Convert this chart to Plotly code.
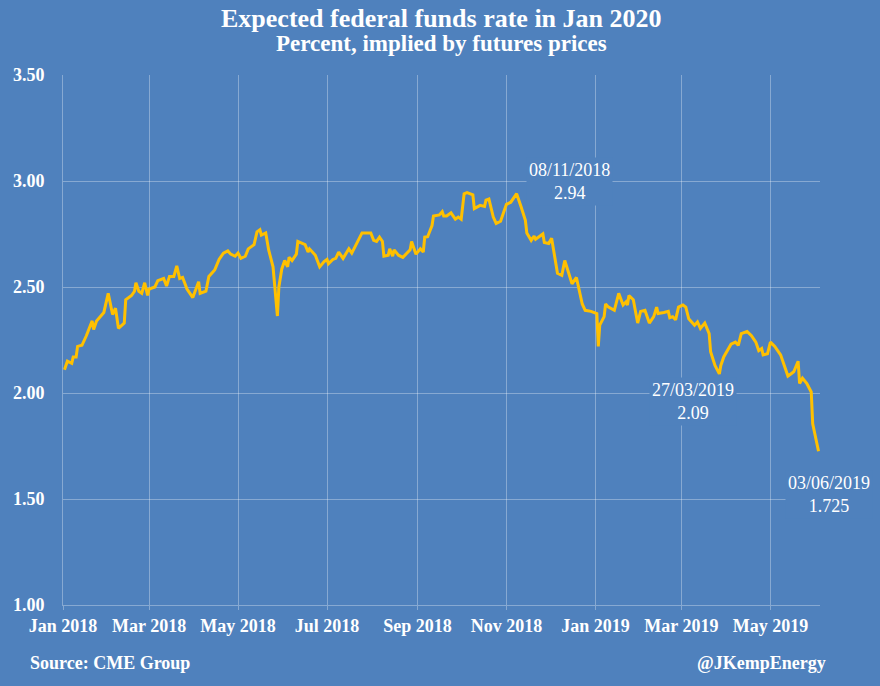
import plotly.graph_objects as go

dates = [
    "2018-01-02", "2018-01-04", "2018-01-07", "2018-01-08", "2018-01-10", "2018-01-11",
    "2018-01-14", "2018-01-17", "2018-01-21", "2018-01-22", "2018-01-24", "2018-01-29",
    "2018-02-01", "2018-02-04", "2018-02-06", "2018-02-08", "2018-02-12", "2018-02-13",
    "2018-02-17", "2018-02-19", "2018-02-20", "2018-02-22", "2018-02-24", "2018-02-26",
    "2018-02-28", "2018-03-01", "2018-03-05", "2018-03-07", "2018-03-11", "2018-03-13",
    "2018-03-15", "2018-03-18", "2018-03-20", "2018-03-22", "2018-03-24", "2018-03-27",
    "2018-03-31", "2018-04-02", "2018-04-04", "2018-04-05", "2018-04-09", "2018-04-11",
    "2018-04-15", "2018-04-18", "2018-04-21", "2018-04-24", "2018-04-26", "2018-04-29",
    "2018-05-01", "2018-05-03", "2018-05-06", "2018-05-08", "2018-05-12", "2018-05-14",
    "2018-05-16", "2018-05-17", "2018-05-20", "2018-05-22", "2018-05-25", "2018-05-28",
    "2018-05-29", "2018-05-31", "2018-06-02", "2018-06-04", "2018-06-05", "2018-06-07",
    "2018-06-10", "2018-06-11", "2018-06-16", "2018-06-18", "2018-06-19", "2018-06-23",
    "2018-06-26", "2018-06-29", "2018-07-01", "2018-07-02", "2018-07-05", "2018-07-07",
    "2018-07-09", "2018-07-12", "2018-07-16", "2018-07-18", "2018-07-22", "2018-07-25",
    "2018-07-28", "2018-07-31", "2018-08-02", "2018-08-04", "2018-08-06", "2018-08-08",
    "2018-08-09", "2018-08-12", "2018-08-13", "2018-08-15", "2018-08-16", "2018-08-19",
    "2018-08-22", "2018-08-24", "2018-08-27", "2018-08-28", "2018-08-31", "2018-09-03",
    "2018-09-05", "2018-09-06", "2018-09-08", "2018-09-11", "2018-09-12", "2018-09-16",
    "2018-09-18", "2018-09-19", "2018-09-21", "2018-09-24", "2018-09-27", "2018-09-29",
    "2018-10-01", "2018-10-03", "2018-10-05", "2018-10-09", "2018-10-10", "2018-10-14",
    "2018-10-17", "2018-10-18", "2018-10-20", "2018-10-23", "2018-10-25", "2018-10-28",
    "2018-10-30", "2018-11-01", "2018-11-04", "2018-11-08", "2018-11-11", "2018-11-14",
    "2018-11-15", "2018-11-18", "2018-11-20", "2018-11-21", "2018-11-26", "2018-11-27",
    "2018-11-30", "2018-12-02", "2018-12-06", "2018-12-09", "2018-12-11", "2018-12-13",
    "2018-12-16", "2018-12-19", "2018-12-23", "2018-12-25", "2018-12-29", "2019-01-02",
    "2019-01-03", "2019-01-04", "2019-01-07", "2019-01-08", "2019-01-10", "2019-01-14",
    "2019-01-17", "2019-01-20", "2019-01-22", "2019-01-23", "2019-01-24", "2019-01-27",
    "2019-01-30", "2019-02-01", "2019-02-04", "2019-02-07", "2019-02-10", "2019-02-12",
    "2019-02-13", "2019-02-17", "2019-02-20", "2019-02-21", "2019-02-23", "2019-02-25",
    "2019-02-27", "2019-03-02", "2019-03-04", "2019-03-06", "2019-03-09", "2019-03-10",
    "2019-03-12", "2019-03-14", "2019-03-17", "2019-03-20", "2019-03-21", "2019-03-24",
    "2019-03-27", "2019-03-28", "2019-03-30", "2019-04-01", "2019-04-04", "2019-04-07",
    "2019-04-09", "2019-04-11", "2019-04-15", "2019-04-18", "2019-04-21", "2019-04-23",
    "2019-04-25", "2019-04-26", "2019-04-29", "2019-05-01", "2019-05-04", "2019-05-08",
    "2019-05-11", "2019-05-13", "2019-05-15", "2019-05-17", "2019-05-20", "2019-05-21",
    "2019-05-23", "2019-05-26", "2019-05-29", "2019-05-30", "2019-06-03",
]

rates = [
    2.11, 2.15, 2.14, 2.17, 2.17, 2.22,
    2.225, 2.27, 2.34, 2.30, 2.34, 2.38,
    2.47, 2.37, 2.40, 2.305, 2.33, 2.44,
    2.46, 2.48, 2.52, 2.48, 2.47, 2.52,
    2.46, 2.49, 2.50, 2.53, 2.54, 2.505,
    2.55, 2.55, 2.60, 2.54, 2.545, 2.49,
    2.45, 2.49, 2.525, 2.47, 2.48, 2.55,
    2.58, 2.63, 2.66, 2.67, 2.655, 2.645,
    2.66, 2.635, 2.645, 2.68, 2.70, 2.76,
    2.77, 2.745, 2.755, 2.675, 2.595, 2.363,
    2.50, 2.585, 2.625, 2.595, 2.64, 2.625,
    2.655, 2.715, 2.70, 2.665, 2.68, 2.65,
    2.595, 2.62, 2.63, 2.61, 2.63, 2.635,
    2.665, 2.635, 2.68, 2.66, 2.715, 2.755,
    2.755, 2.755, 2.72, 2.715, 2.735, 2.715,
    2.645, 2.65, 2.68, 2.645, 2.675, 2.65,
    2.64, 2.655, 2.675, 2.715, 2.655, 2.68,
    2.665, 2.735, 2.737, 2.79, 2.835, 2.84,
    2.855, 2.835, 2.835, 2.85, 2.82, 2.83,
    2.82, 2.94, 2.945, 2.935, 2.87, 2.885,
    2.88, 2.91, 2.915, 2.83, 2.80, 2.81,
    2.855, 2.89, 2.90, 2.94, 2.88, 2.815,
    2.755, 2.72, 2.74, 2.725, 2.75, 2.71,
    2.705, 2.73, 2.565, 2.555, 2.625, 2.58,
    2.515, 2.545, 2.42, 2.39, 2.385, 2.375,
    2.22, 2.32, 2.36, 2.42, 2.405, 2.39,
    2.47, 2.415, 2.43, 2.415, 2.46, 2.44,
    2.33, 2.385, 2.39, 2.33, 2.36, 2.405,
    2.375, 2.38, 2.385, 2.355, 2.36, 2.345,
    2.405, 2.415, 2.405, 2.35, 2.33, 2.32,
    2.335, 2.305, 2.33, 2.28, 2.195, 2.13,
    2.09, 2.13, 2.17, 2.195, 2.23, 2.24,
    2.225, 2.28, 2.29, 2.27, 2.24, 2.20,
    2.21, 2.18, 2.185, 2.24, 2.22, 2.18,
    2.115, 2.08, 2.09, 2.10, 2.15, 2.045,
    2.07, 2.045, 2.005, 1.855, 1.725,
]

title_text = "Expected federal funds rate in Jan 2020"
subtitle_text = "Percent, implied by futures prices"
source_text = "Source: CME Group"
credit_text = "@JKempEnergy"

callout_dates = ["2018-12-14", "2019-03-09", "2019-06-03"]
callout_y = [3.0, 1.958, 1.52]
callout_text = ["08/11/2018<br>2.94", "27/03/2019<br>2.09", "03/06/2019<br>1.725"]
callout_shift = [0, 0, 10]

BG = "#4F81BD"
GRID = "rgba(255,255,255,0.32)"
SERIF = "Liberation Serif, Times New Roman, serif"

fig = go.Figure()
fig.add_trace(go.Scatter(
    x=dates, y=rates, mode="lines",
    line=dict(color="#FFC000", width=3),
    hoverinfo="skip", showlegend=False,
))

annotations = [
    dict(text="<b>" + title_text + "</b>", xref="paper", yref="paper",
         x=0.5, y=1.106, xanchor="center", yanchor="middle", showarrow=False,
         font=dict(family=SERIF, size=26, color="white")),
    dict(text="<b>" + subtitle_text + "</b>", xref="paper", yref="paper",
         x=0.5, y=1.060, xanchor="center", yanchor="middle", showarrow=False,
         font=dict(family=SERIF, size=23, color="white")),
    dict(text="<b>" + source_text + "</b>", xref="paper", yref="paper",
         x=-0.046, y=-0.109, xanchor="left", yanchor="middle", showarrow=False,
         font=dict(family=SERIF, size=18, color="white")),
    dict(text="<b>" + credit_text + "</b>", xref="paper", yref="paper",
         x=1.0106, y=-0.109, xanchor="right", yanchor="middle", showarrow=False,
         font=dict(family=SERIF, size=18, color="white")),
]
for d, yv, t, s in zip(callout_dates, callout_y, callout_text, callout_shift):
    annotations.append(dict(
        text=t, x=d, y=yv, xref="x", yref="y", xanchor="center", yanchor="middle",
        align="center", showarrow=False, bgcolor=BG, borderpad=2, xshift=s,
        font=dict(family=SERIF, size=18, color="white"),
    ))

fig.update_layout(
    width=880, height=686,
    paper_bgcolor=BG, plot_bgcolor=BG,
    margin=dict(l=63, r=60, t=75, b=81),
    annotations=annotations,
    xaxis=dict(
        type="date", range=["2018-01-01", "2019-06-04"],
        tick0="2018-01-01", dtick="M2", tickformat="%b %Y",
        showgrid=True, gridcolor=GRID, gridwidth=1,
        showline=True, linecolor=GRID, linewidth=1,
        ticks="outside", ticklen=4, tickcolor=GRID,
        tickfont=dict(family=SERIF, size=18, color="white", weight="bold"),
        zeroline=False,
    ),
    yaxis=dict(
        range=[1.0, 3.5], dtick=0.5, tick0=1.0, tickformat=".2f",
        showgrid=True, gridcolor=GRID, gridwidth=1,
        showline=True, linecolor=GRID, linewidth=1,
        ticks="", ticklabelstandoff=14,
        tickfont=dict(family=SERIF, size=18, color="white", weight="bold"),
        zeroline=False,
    ),
)

fig.write_html("out.html")
